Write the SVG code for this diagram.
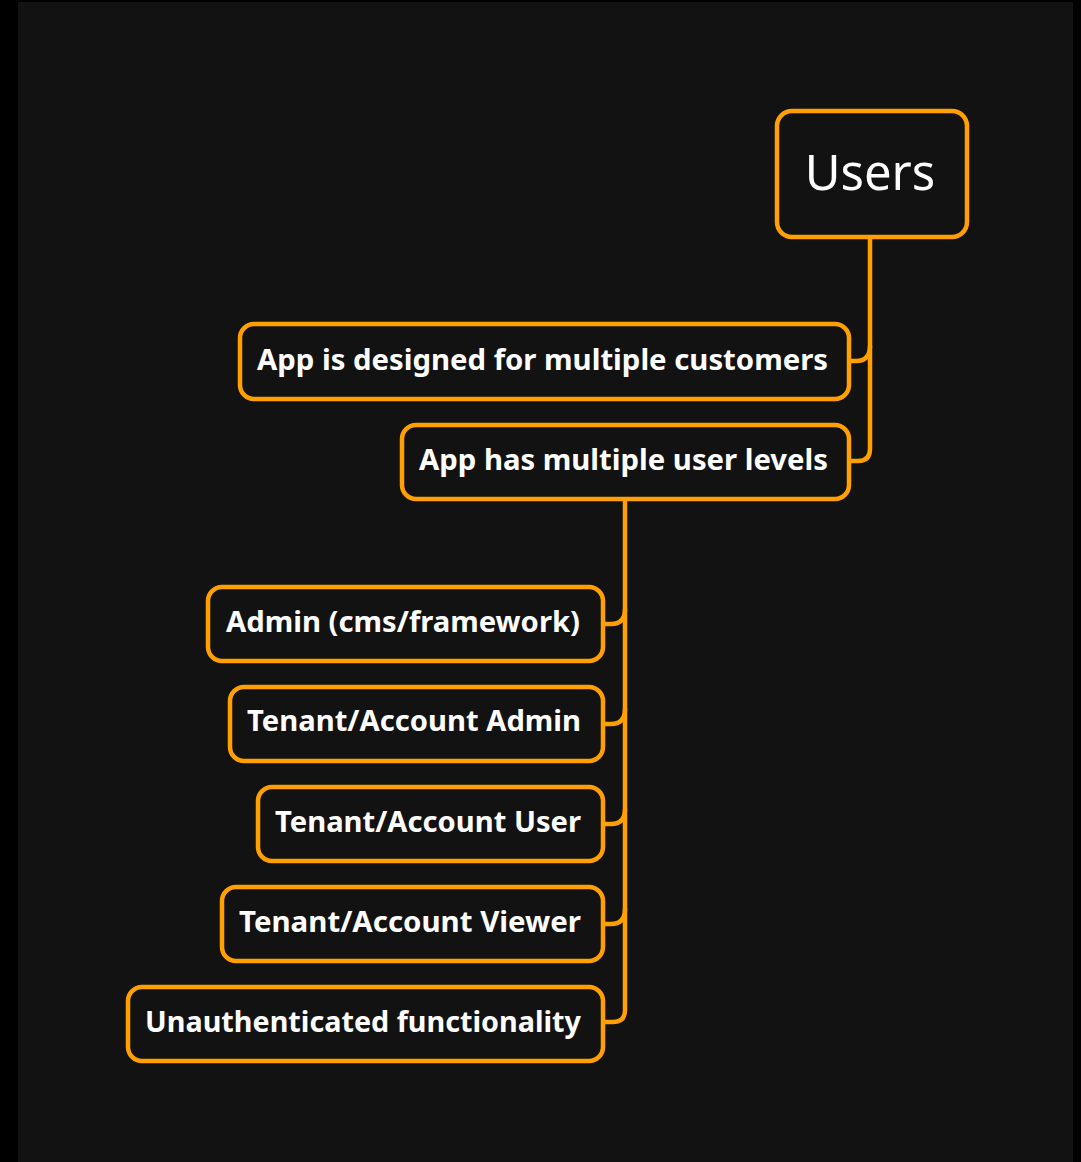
<svg xmlns="http://www.w3.org/2000/svg" width="1081" height="1162" viewBox="0 0 1081 1162">
  <style>
    .box { fill: #121212; stroke: #ffa000; stroke-width: 4.5; }
    .link { fill: none; stroke: #ffa000; stroke-width: 4.5; stroke-linecap: round; stroke-linejoin: round; }
    .dot { fill: #ffa000; }
    .label { fill: #ffffff; font-family: "Noto Sans", "DejaVu Sans", sans-serif; font-weight: bold; font-size: 28px; }
    .title { fill: #ffffff; font-family: "Noto Sans", "DejaVu Sans", sans-serif; font-size: 49px; text-anchor: middle; }
  </style>
  <!-- frame and canvas -->
  <rect x="0" y="0" width="1081" height="1162" fill="#000000"/>
  <rect x="18" y="2" width="1055" height="1160" fill="#121212"/>

  <!-- tree connectors -->
  <g id="connectors">
    <path class="link" d="M870,237 V449 Q870,461 858,461 H849"/>
    <path class="link" d="M870,346 Q870,361 856,361 H849"/>
    <path class="link" d="M625,499 V1010 Q625,1022 613,1022 H603"/>
    <path class="link" d="M625,609 Q625,624 611,624 H603"/>
    <path class="link" d="M625,709 Q625,724 611,724 H603"/>
    <path class="link" d="M625,809 Q625,824 611,824 H603"/>
    <path class="link" d="M625,909 Q625,924 611,924 H603"/>
    <circle class="dot" cx="849" cy="361" r="3"/>
    <circle class="dot" cx="849" cy="461" r="3"/>
    <circle class="dot" cx="603" cy="624" r="3"/>
    <circle class="dot" cx="603" cy="724" r="3"/>
    <circle class="dot" cx="603" cy="824" r="3"/>
    <circle class="dot" cx="603" cy="924" r="3"/>
    <circle class="dot" cx="603" cy="1022" r="3"/>
  </g>

  <g id="users">
    <rect class="box" x="777" y="111" width="190" height="126" rx="15"/>
    <text class="title" x="870" y="190">Users</text>
  </g>
  <g id="multiple-customers">
    <rect class="box" x="240" y="324" width="609" height="75" rx="14"/>
    <text class="label" x="257" y="370" textLength="571" lengthAdjust="spacingAndGlyphs">App is designed for multiple customers</text>
  </g>
  <g id="user-levels">
    <rect class="box" x="402" y="425" width="447" height="74" rx="14"/>
    <text class="label" x="419" y="470" textLength="409" lengthAdjust="spacingAndGlyphs">App has multiple user levels</text>
  </g>
  <g id="admin">
    <rect class="box" x="208" y="587" width="395" height="74" rx="14"/>
    <text class="label" x="226" y="632" textLength="354" lengthAdjust="spacingAndGlyphs">Admin (cms/framework)</text>
  </g>
  <g id="tenant-admin">
    <rect class="box" x="230" y="687" width="373" height="74" rx="14"/>
    <text class="label" x="247" y="731" textLength="334" lengthAdjust="spacingAndGlyphs">Tenant/Account Admin</text>
  </g>
  <g id="tenant-user">
    <rect class="box" x="258" y="787" width="345" height="74" rx="14"/>
    <text class="label" x="275" y="832" textLength="306" lengthAdjust="spacingAndGlyphs">Tenant/Account User</text>
  </g>
  <g id="tenant-viewer">
    <rect class="box" x="222" y="887" width="381" height="74" rx="14"/>
    <text class="label" x="239" y="932" textLength="342" lengthAdjust="spacingAndGlyphs">Tenant/Account Viewer</text>
  </g>
  <g id="unauthenticated">
    <rect class="box" x="128" y="987" width="475" height="74" rx="14"/>
    <text class="label" x="145" y="1032" textLength="436" lengthAdjust="spacingAndGlyphs">Unauthenticated functionality</text>
  </g>
</svg>
